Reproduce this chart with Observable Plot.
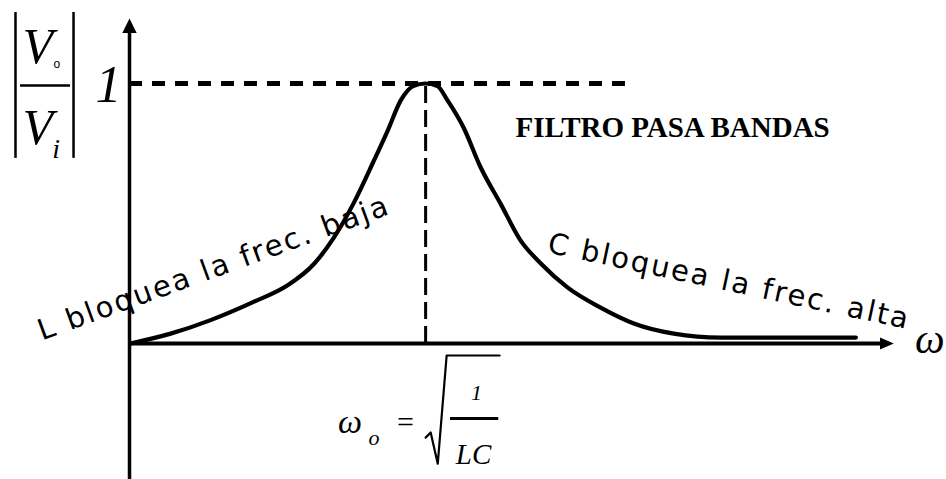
<!DOCTYPE html>
<html>
<head>
<meta charset="utf-8">
<script src="https://cdn.jsdelivr.net/npm/d3@7"></script>
<script src="https://cdn.jsdelivr.net/npm/@observablehq/plot@0.6"></script>
<style>
  html, body { margin: 0; padding: 0; background: #fff; }
  #chart svg { display: block; }
  /* hand-written notes are set a little looser */
  #chart g[font-family^="'DejaVu Sans'"] text { letter-spacing: 2.2px; }
</style>
</head>
<body>
<div id="chart"></div>
<script>
// Band-pass response |Vo/Vi| versus angular frequency ω (ω0 = 1)
const omega = [0.003, 0.139, 0.274, 0.419, 0.534, 0.622, 0.689, 0.757, 0.824, 0.872, 0.916, 0.958, 1.0, 1.04, 1.074, 1.128, 1.186, 1.253, 1.321, 1.389, 1.48, 1.591, 1.703, 1.838, 1.997, 2.2, 2.453];
const magnitude = [0.0, 0.038, 0.09, 0.16, 0.224, 0.305, 0.405, 0.54, 0.7, 0.819, 0.935, 0.99, 1.0, 0.99, 0.935, 0.831, 0.677, 0.538, 0.396, 0.308, 0.215, 0.138, 0.077, 0.038, 0.023, 0.023, 0.023];

// Reference level and resonant frequency
const peakGain = 1;
const omega0 = 1;

// Labels
const title = "FILTRO PASA BANDAS";
const lowLabel = "L bloquea la frec. baja";
const highLabel = "C bloquea la frec. alta";

const curve = omega.map((w, i) => ({w, m: magnitude[i]}));

// Filled arrowheads with the tip at the symbol origin
const arrowRight = {
  draw(ctx, size) {
    const s = Math.sqrt(size / Math.PI);
    const L = 2.3 * s, W = 1.0 * s;
    ctx.moveTo(0, 0);
    ctx.lineTo(-L, -W);
    ctx.lineTo(-L, W);
    ctx.closePath();
  }
};
const arrowUp = {
  draw(ctx, size) {
    const s = Math.sqrt(size / Math.PI);
    const L = 2.4 * s, W = 1.2 * s;
    ctx.moveTo(0, 0);
    ctx.lineTo(-W, L);
    ctx.lineTo(W, L);
    ctx.closePath();
  }
};

const serif = "'Liberation Serif', 'DejaVu Serif', serif";
const hand = "'DejaVu Sans', 'Noto Sans', sans-serif";
const small = "'Liberation Sans', sans-serif";

const chart = Plot.plot({
  width: 946,
  height: 479,
  margin: 0,
  style: {background: "#fff", color: "#000"},
  x: {domain: [0, 2.58], range: [129, 893], axis: null},
  y: {domain: [-0.523, 1.25], range: [479, 18], axis: null},
  marks: [
    // dashed guides to the peak
    Plot.ruleY([peakGain], {x1: 0, x2: 1.68, stroke: "#000", strokeWidth: 5, strokeDasharray: "13,10"}),
    Plot.ruleX([omega0], {y1: 0, y2: peakGain, stroke: "#000", strokeWidth: 3, strokeDasharray: "17,7"}),
    // axes with arrowheads
    Plot.ruleX([0], {y1: -0.523, y2: 1.2, stroke: "#000", strokeWidth: 3.5}),
    Plot.ruleY([0], {x1: 0, x2: 2.55, stroke: "#000", strokeWidth: 4}),
    Plot.dot([0], {x: 0, y: 1.25, symbol: arrowUp, r: 6, fill: "#000", stroke: "none"}),
    Plot.dot([0], {x: 2.581, y: 0, symbol: arrowRight, r: 6, fill: "#000", stroke: "none"}),
    // response curve
    Plot.line(curve, {x: "w", y: "m", curve: "monotone-x", stroke: "#000", strokeWidth: 4.2, strokeLinecap: "round"}),
    // |Vo / Vi| label
    Plot.ruleX([-0.385, -0.189], {y1: 0.712, y2: 1.273, stroke: "#000", strokeWidth: 2.5}),
    Plot.ruleY([0.992], {x1: -0.368, x2: -0.199, stroke: "#000", strokeWidth: 2.5}),
    Plot.text(["V"], {x: -0.31, y: 1.077, fontSize: 50, fontFamily: serif, fontStyle: "italic", lineAnchor: "bottom", fill: "#000"}),
    Plot.text(["o"], {x: -0.245, y: 1.06, fontSize: 12, fontFamily: small, lineAnchor: "bottom", fill: "#000"}),
    Plot.text(["V"], {x: -0.31, y: 0.769, fontSize: 50, fontFamily: serif, fontStyle: "italic", lineAnchor: "bottom", fill: "#000"}),
    Plot.text(["i"], {x: -0.248, y: 0.715, fontSize: 28, fontFamily: serif, fontStyle: "italic", lineAnchor: "bottom", fill: "#000"}),
    // peak value
    Plot.text(["1"], {x: -0.071, y: 0.927, fontSize: 52, fontFamily: serif, fontStyle: "italic", lineAnchor: "bottom", fill: "#000"}),
    // title
    Plot.text([title], {x: 1.834, y: 0.796, fontSize: 29, fontFamily: serif, fontWeight: "bold", lineAnchor: "bottom", fill: "#000"}),
    // region notes
    Plot.text([lowLabel], {x: 0.285, y: 0.29, rotate: -20, fontSize: 29, fontFamily: hand, fill: "#000"}),
    Plot.text([highLabel], {x: 2.025, y: 0.238, rotate: 12, fontSize: 29, fontFamily: hand, fill: "#000"}),
    // frequency axis label
    Plot.text(["ω"], {x: 2.703, y: -0.038, fontSize: 42, fontFamily: serif, fontStyle: "italic", lineAnchor: "bottom", fill: "#000"}),
    // ω0 = √(1/LC)
    Plot.text(["ω"], {x: 0.745, y: -0.346, fontSize: 34, fontFamily: serif, fontStyle: "italic", lineAnchor: "bottom", fill: "#000"}),
    Plot.text(["o"], {x: 0.826, y: -0.392, fontSize: 22, fontFamily: serif, fontStyle: "italic", lineAnchor: "bottom", fill: "#000"}),
    Plot.text(["="], {x: 0.932, y: -0.34, fontSize: 30, fontFamily: serif, lineAnchor: "bottom", fill: "#000"}),
    Plot.line([[1.0, -0.362], [1.017, -0.342], [1.041, -0.462], [1.071, -0.046], [1.25, -0.046]], {stroke: "#000", strokeWidth: 2.2}),
    Plot.text(["1"], {x: 1.172, y: -0.219, fontSize: 22, fontFamily: serif, fontStyle: "italic", lineAnchor: "bottom", fill: "#000"}),
    Plot.ruleY([-0.288], {x1: 1.084, x2: 1.247, stroke: "#000", strokeWidth: 3}),
    Plot.text(["LC"], {x: 1.162, y: -0.462, fontSize: 29, fontFamily: serif, fontStyle: "italic", lineAnchor: "bottom", fill: "#000"})
  ]
});

document.getElementById("chart").append(chart);
</script>
</body>
</html>
